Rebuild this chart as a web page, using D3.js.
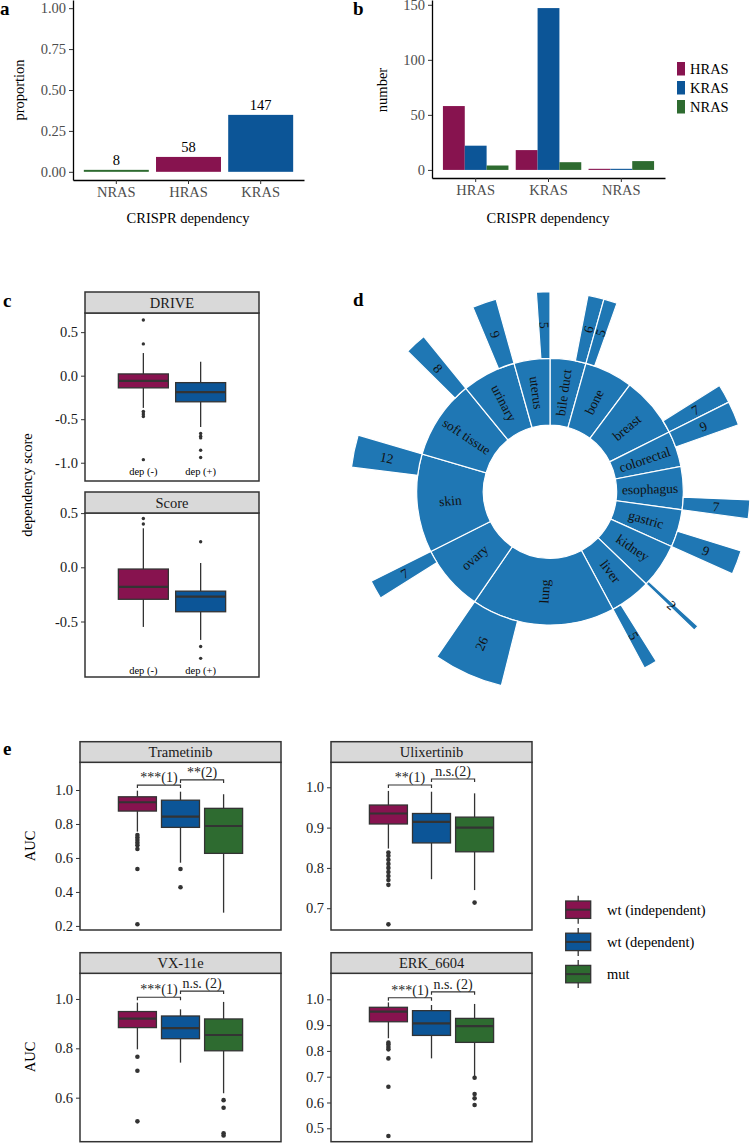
<!DOCTYPE html>
<html><head><meta charset="utf-8">
<script src="https://cdn.jsdelivr.net/npm/d3@7"></script>
<style>
body{margin:0;background:#fff}
svg text{font-family:"Liberation Serif","Tinos","Times New Roman","Times","DejaVu Serif","Noto Serif",serif !important}
</style>
</head><body>
<svg id="chart" width="750" height="1143" font-family="Liberation Serif, DejaVu Serif, serif"></svg>
<script>
// ---------------- DATA ----------------
// panel a
const rasGenes = ["NRAS","HRAS","KRAS"];
const propValues = [0.012, 0.091, 0.348];
const propLabels = [8, 58, 147];
const propTicks = [0, 0.25, 0.5, 0.75, 1];
// panel b
const depCategories = ["HRAS","KRAS","NRAS"];
const mutGroups = ["HRAS","KRAS","NRAS"];
const countsHRASdep = [58, 22, 4];
const countsKRASdep = [18, 147, 7];
const countsNRASdep = [1, 1, 8];
const countTicks = [0, 50, 100, 150];
// panel c  (boxes: [whiskerLow, q1, median, q3, whiskerHigh])
const depGroups = ["dep (-)", "dep (+)"];
const scoreTypes = ["DRIVE", "Score"];
const driveNeg = [-0.37, -0.14, -0.06, 0.02, 0.26];
const driveNegOut = [0.64, 0.365, -0.41, -0.43, -0.45, -0.47, -0.965];
const drivePos = [-0.59, -0.30, -0.19, -0.08, 0.16];
const drivePosOut = [-0.665, -0.695, -0.715, -0.857, -0.94];
const scoreNeg = [-0.55, -0.295, -0.18, -0.016, 0.36];
const scoreNegOut = [0.45, 0.40];
const scorePos = [-0.67, -0.41, -0.27, -0.22, 0.04];
const scorePosOut = [0.236, -0.73, -0.84];
const depTicks = [[0.5, 0, -0.5, -1], [0.5, 0, -0.5]];
const depLimits = [[-1.21, 0.72], [-1.012, 0.501]];
const depTextValue = [-1.095, -0.947];
// panel d
const tissues = ["bile duct","bone","breast","colorectal","esophagus","gastric","kidney","liver","lung","ovary","skin","soft tissue","urinary","uterus"];
const tissueTotals = [20, 27, 34, 20, 24, 21, 25, 23, 80, 37, 55, 44, 30, 20];
const tissueDependent = [6, 5, 7, 9, 7, 9, 2, 5, 26, 7, 12, 8, 9, 5];
const dependentListedFirst = ["bone", "colorectal"];
// panel e
const drugs = ["Trametinib", "Ulixertinib", "VX-11e", "ERK_6604"];
const aucGroups = ["wt (independent)", "wt (dependent)", "mut"];
const trametinibBoxes = [[0.755, 0.876, 0.928, 0.96, 0.996], [0.572, 0.78, 0.843, 0.94, 0.99], [0.278, 0.627, 0.788, 0.892, 0.975]];
const trametinibOut = [[0.735, 0.72, 0.706, 0.69, 0.675, 0.653, 0.535, 0.21], [0.535, 0.428], []];
const ulixertinibBoxes = [[0.848, 0.909, 0.935, 0.956, 0.991], [0.772, 0.862, 0.914, 0.935, 0.989], [0.745, 0.84, 0.90, 0.926, 0.985]];
const ulixertinibOut = [[0.838, 0.83, 0.82, 0.81, 0.80, 0.79, 0.78, 0.77, 0.758, 0.66], [], [0.714]];
const vx11eBoxes = [[0.796, 0.884, 0.92, 0.949, 0.985], [0.742, 0.839, 0.882, 0.931, 0.958], [0.618, 0.79, 0.854, 0.919, 0.988]];
const vx11eOut = [[0.766, 0.709, 0.504], [], [0.59, 0.559, 0.456, 0.447]];
const erkBoxes = [[0.849, 0.913, 0.952, 0.969, 0.988], [0.771, 0.86, 0.907, 0.956, 0.978], [0.70, 0.833, 0.896, 0.926, 0.982]];
const erkOut = [[0.832, 0.825, 0.815, 0.806, 0.771, 0.661, 0.47], [], [0.696, 0.633, 0.616, 0.59]];
const aucTicks = [[0.2, 0.4, 0.6, 0.8, 1.0], [0.7, 0.8, 0.9, 1.0], [0.6, 0.8, 1.0], [0.5, 0.6, 0.7, 0.8, 0.9, 1.0]];
const aucLimits = [[0.176, 1.163], [0.646, 1.062], [0.4216, 1.104], [0.448, 1.1008]];
const sigLabels = [["***(1)", "**(2)"], ["**(1)", "n.s.(2)"], ["***(1)", "n.s. (2)"], ["***(1)", "n.s. (2)"]];
const sigHeights = [[1.029, 1.059], [1.0057, 1.0206], [1.007, 1.032], [1.006, 1.029]];

// ---------------- STYLE ----------------
const SERIF = '"Liberation Serif","Tinos","Times New Roman","DejaVu Serif",serif';
const rasColors = {HRAS: "#87134f", KRAS: "#0c5597", NRAS: "#2e6b30"};
const groupColors = ["#87134f", "#0c5597", "#2e6b30"];
const depColors = ["#87134f", "#0c5597"];
const sunColor = "#1f77b4";
const dark = "#333333";

const svg = d3.select("#chart");
svg.append("rect").attr("width", 750).attr("height", 1143).attr("fill", "#fff");

function letter(t, x, y) {
  svg.append("text").attr("x", x).attr("y", y).attr("font-size", 19).attr("font-weight", "bold").text(t);
}
function styleAxis(g, color, fs) {
  g.attr("font-family", SERIF);
  g.selectAll("text").attr("fill", color).attr("font-size", fs).attr("font-family", SERIF);
  g.selectAll("line").attr("stroke", "#333").attr("stroke-width", 1);
  g.select(".domain").attr("stroke", "#000").attr("stroke-width", 1.3);
}

// ---------------- PANEL A ----------------
letter("a", 0, 15);
{
  const g = svg.append("g");
  const x = d3.scaleBand().domain(rasGenes).range([73, 304]).paddingInner(0.1).paddingOuter(0.15);
  const y = d3.scaleLinear().domain([-0.05, 1.05]).range([180, 0]);
  g.selectAll("rect.bar").data(rasGenes).join("rect").attr("class", "bar")
    .attr("x", d => x(d)).attr("width", x.bandwidth())
    .attr("y", (d, i) => y(propValues[i])).attr("height", (d, i) => y(0) - y(propValues[i]))
    .attr("fill", d => rasColors[d]);
  g.selectAll("text.lab").data(rasGenes).join("text").attr("class", "lab")
    .attr("x", d => x(d) + x.bandwidth() / 2).attr("y", (d, i) => y(propValues[i]) - 5)
    .attr("text-anchor", "middle").attr("font-size", 14.5).text((d, i) => propLabels[i]);
  const ya = g.append("g").attr("transform", "translate(73,0)")
    .call(d3.axisLeft(y).tickValues(propTicks).tickFormat(d3.format(".2f")).tickSize(4).tickSizeOuter(0).tickPadding(3));
  styleAxis(ya, "#4d4d4d", 14.5);
  const xa = g.append("g").attr("transform", "translate(0,180)")
    .call(d3.axisBottom(x).tickSize(4).tickSizeOuter(0).tickPadding(3));
  styleAxis(xa, "#4d4d4d", 14.5);
  g.append("text").attr("x", 188).attr("y", 223).attr("text-anchor", "middle").attr("font-size", 14.5).text("CRISPR dependency");
  g.append("text").attr("transform", "translate(24,90) rotate(-90)").attr("text-anchor", "middle").attr("font-size", 14.5).text("proportion");
}

// ---------------- PANEL B ----------------
letter("b", 353, 15);
{
  const g = svg.append("g");
  const x = d3.scaleBand().domain(depCategories).range([432, 665]).paddingInner(0.1).paddingOuter(0.15);
  const xi = d3.scaleBand().domain(mutGroups).range([0, x.bandwidth()]);
  const y = d3.scaleLinear().domain([-7.35, 154.35]).range([178, 0]);
  const counts = [countsHRASdep, countsKRASdep, countsNRASdep];
  depCategories.forEach((cat, ci) => {
    g.selectAll(null).data(mutGroups).join("rect")
      .attr("x", d => x(cat) + xi(d)).attr("width", xi.bandwidth())
      .attr("y", (d, i) => y(counts[ci][i])).attr("height", (d, i) => y(0) - y(counts[ci][i]))
      .attr("fill", d => rasColors[d]);
  });
  const ya = g.append("g").attr("transform", "translate(432,0)")
    .call(d3.axisLeft(y).tickValues(countTicks).tickSize(4).tickSizeOuter(0).tickPadding(3));
  styleAxis(ya, "#4d4d4d", 14.5);
  const xa = g.append("g").attr("transform", "translate(0,178)")
    .call(d3.axisBottom(x).tickSize(4).tickSizeOuter(0).tickPadding(3));
  styleAxis(xa, "#4d4d4d", 14.5);
  g.append("text").attr("x", 548).attr("y", 223).attr("text-anchor", "middle").attr("font-size", 14.5).text("CRISPR dependency");
  g.append("text").attr("transform", "translate(387,90) rotate(-90)").attr("text-anchor", "middle").attr("font-size", 14.5).text("number");
  const leg = g.append("g").attr("transform", "translate(677,62)");
  mutGroups.forEach((m, i) => {
    leg.append("rect").attr("x", 0).attr("y", i * 19).attr("width", 8).attr("height", 13.5).attr("fill", rasColors[m]);
    leg.append("text").attr("x", 13).attr("y", i * 19 + 7).attr("dy", "0.35em").attr("font-size", 14.5).text(m);
  });
}

// ---------------- BOXPLOT HELPERS ----------------
function drawBox(g, cx, w, stats, outs, y, color, r) {
  const [lo, q1, med, q3, hi] = stats;
  g.append("line").attr("x1", cx).attr("x2", cx).attr("y1", y(hi)).attr("y2", y(q3)).attr("stroke", dark).attr("stroke-width", 1.3);
  g.append("line").attr("x1", cx).attr("x2", cx).attr("y1", y(q1)).attr("y2", y(lo)).attr("stroke", dark).attr("stroke-width", 1.3);
  g.append("rect").attr("x", cx - w / 2).attr("width", w).attr("y", y(q3)).attr("height", y(q1) - y(q3))
    .attr("fill", color).attr("stroke", dark).attr("stroke-width", 1.3);
  g.append("line").attr("x1", cx - w / 2).attr("x2", cx + w / 2).attr("y1", y(med)).attr("y2", y(med)).attr("stroke", dark).attr("stroke-width", 2.2);
  g.selectAll(null).data(outs).join("circle").attr("cx", cx).attr("cy", d => y(d)).attr("r", r).attr("fill", dark);
}
function drawFacet(x0, x1, sTop, sBot, pBot, title) {
  svg.append("rect").attr("x", x0).attr("y", sTop).attr("width", x1 - x0).attr("height", sBot - sTop)
    .attr("fill", "#d9d9d9").attr("stroke", dark).attr("stroke-width", 1.5);
  svg.append("text").attr("x", (x0 + x1) / 2).attr("y", (sTop + sBot) / 2).attr("dy", "0.35em")
    .attr("text-anchor", "middle").attr("font-size", 14.5).attr("fill", "#1a1a1a").text(title);
}
function drawPanelBorder(x0, x1, top, bot) {
  svg.append("rect").attr("x", x0).attr("y", top).attr("width", x1 - x0).attr("height", bot - top)
    .attr("fill", "none").attr("stroke", dark).attr("stroke-width", 1.5);
}

// ---------------- PANEL C ----------------
letter("c", 3, 307);
{
  const px0 = 85, px1 = 259;
  const rows = [{sTop: 292, sBot: 313, pBot: 481}, {sTop: 492, sBot: 513, pBot: 677}];
  const boxes = [[driveNeg, drivePos], [scoreNeg, scorePos]];
  const outs = [[driveNegOut, drivePosOut], [scoreNegOut, scorePosOut]];
  const xc = d3.scaleBand().domain(depGroups).range([px0 + 32, px1 - 32]).paddingInner(0.08);
  scoreTypes.forEach((st, ri) => {
    const r = rows[ri];
    const y = d3.scaleLinear().domain(depLimits[ri]).range([r.pBot, r.sBot]);
    const g = svg.append("g");
    depGroups.forEach((dg, gi) => {
      drawBox(g, xc(dg) + xc.bandwidth() / 2, 50, boxes[ri][gi], outs[ri][gi], y, depColors[gi], 1.7);
      g.append("text").attr("x", xc(dg) + xc.bandwidth() / 2).attr("y", y(depTextValue[ri])).attr("dy", "0.35em")
        .attr("text-anchor", "middle").attr("font-size", 10.5).text(dg);
    });
    const ya = svg.append("g").attr("transform", `translate(${px0},0)`)
      .call(d3.axisLeft(y).tickValues(depTicks[ri]).tickFormat(d => d.toFixed(1)).tickSize(4).tickPadding(3));
    ya.select(".domain").remove();
    styleAxis(ya, "#1a1a1a", 14.5);
    drawPanelBorder(px0, px1, r.sBot, r.pBot);
    drawFacet(px0, px1, r.sTop, r.sBot, r.pBot, st);
  });
  svg.append("text").attr("transform", "translate(32,485) rotate(-90)").attr("text-anchor", "middle").attr("font-size", 14.5).text("dependency score");
}

// ---------------- PANEL D ----------------
letter("d", 353, 306);
{
  const cx = 550, cy = 491.7, band = 66.67;
  const rootData = {name: "root", children: tissues.map((t, i) => {
    const dep = {name: t + "-dep", dep: true, label: tissueDependent[i], value: tissueDependent[i]};
    const rest = {name: t + "-rest", dep: false, value: tissueTotals[i] - tissueDependent[i]};
    return {name: t, children: dependentListedFirst.includes(t) ? [dep, rest] : [rest, dep]};
  })};
  const root = d3.hierarchy(rootData).sum(d => d.children ? 0 : d.value);
  d3.partition().size([2 * Math.PI, 3])(root);
  const arc = d3.arc().startAngle(d => d.x0).endAngle(d => d.x1)
    .innerRadius(d => d.y0 * band).outerRadius(d => d.y1 * band);
  const g = svg.append("g").attr("transform", `translate(${cx},${cy})`);
  const nodes = root.descendants().filter(d => d.depth === 1 || (d.depth === 2 && d.data.dep));
  g.selectAll("path").data(nodes).join("path").attr("d", arc)
    .attr("fill", sunColor).attr("stroke", "#fff").attr("stroke-width", 1.2);
  g.selectAll("text").data(nodes).join("text")
    .attr("transform", d => {
      const a = (d.x0 + d.x1) / 2 * 180 / Math.PI;
      const r = (d.y0 + d.y1) / 2 * band;
      return `rotate(${a - 90}) translate(${r},0) rotate(${a < 180 ? 0 : 180})`;
    })
    .attr("dy", "0.35em").attr("text-anchor", "middle").attr("font-size", 13.5).attr("fill", "#111")
    .text(d => d.depth === 1 ? d.data.name : d.data.label);
}

// ---------------- PANEL E ----------------
letter("e", 3, 755);
{
  const cols = [[80, 281], [331, 532]];
  const rows = [{sTop: 741.7, sBot: 762.3, pBot: 930}, {sTop: 952.7, sBot: 973.3, pBot: 1141.7}];
  const allBoxes = [trametinibBoxes, ulixertinibBoxes, vx11eBoxes, erkBoxes];
  const allOuts = [trametinibOut, ulixertinibOut, vx11eOut, erkOut];
  drugs.forEach((drug, di) => {
    const [x0, x1] = cols[di % 2];
    const r = rows[Math.floor(di / 2)];
    const y = d3.scaleLinear().domain(aucLimits[di]).range([r.pBot, r.sBot]);
    const mid = (x0 + x1) / 2;
    const xg = d3.scaleBand().domain(aucGroups).range([mid - 62.7, mid + 62.7]).paddingInner(0.09);
    const xcOf = gname => xg(gname) + xg.bandwidth() / 2;
    const g = svg.append("g");
    aucGroups.forEach((grp, gi) => {
      drawBox(g, xcOf(grp), 38, allBoxes[di][gi], allOuts[di][gi], y, groupColors[gi], 2.3);
    });
    [0, 1].forEach(k => {
      const xa = xcOf(aucGroups[k]), xb = xcOf(aucGroups[k + 1]);
      const yy = y(sigHeights[di][k]);
      g.append("path").attr("d", `M${xa},${yy + 3}V${yy}H${xb}V${yy + 3}`).attr("fill", "none").attr("stroke", dark).attr("stroke-width", 1.2);
      g.append("text").attr("x", (xa + xb) / 2).attr("y", yy - 3).attr("text-anchor", "middle").attr("font-size", 14).attr("fill", "#222").text(sigLabels[di][k]);
    });
    const ya = svg.append("g").attr("transform", `translate(${x0},0)`)
      .call(d3.axisLeft(y).tickValues(aucTicks[di]).tickFormat(d => d.toFixed(1)).tickSize(4).tickPadding(3));
    ya.select(".domain").remove();
    styleAxis(ya, "#1a1a1a", 14.5);
    drawPanelBorder(x0, x1, r.sBot, r.pBot);
    drawFacet(x0, x1, r.sTop, r.sBot, r.pBot, drug);
  });
  svg.append("text").attr("transform", "translate(35,846) rotate(-90)").attr("text-anchor", "middle").attr("font-size", 14.5).text("AUC");
  svg.append("text").attr("transform", "translate(35,1057) rotate(-90)").attr("text-anchor", "middle").attr("font-size", 14.5).text("AUC");
  const leg = svg.append("g");
  aucGroups.forEach((grp, i) => {
    const cy = 909.7 + i * 32.2;
    leg.append("line").attr("x1", 578.2).attr("x2", 578.2).attr("y1", cy - 14).attr("y2", cy + 14).attr("stroke", dark).attr("stroke-width", 1.3);
    leg.append("rect").attr("x", 565.7).attr("y", cy - 8.7).attr("width", 25).attr("height", 17.4)
      .attr("fill", groupColors[i]).attr("stroke", dark).attr("stroke-width", 1.3);
    leg.append("line").attr("x1", 565.7).attr("x2", 590.7).attr("y1", cy).attr("y2", cy).attr("stroke", dark).attr("stroke-width", 2);
    leg.append("text").attr("x", 607).attr("y", cy).attr("dy", "0.35em").attr("font-size", 14.5).text(grp);
  });
}
</script>
</body></html>
